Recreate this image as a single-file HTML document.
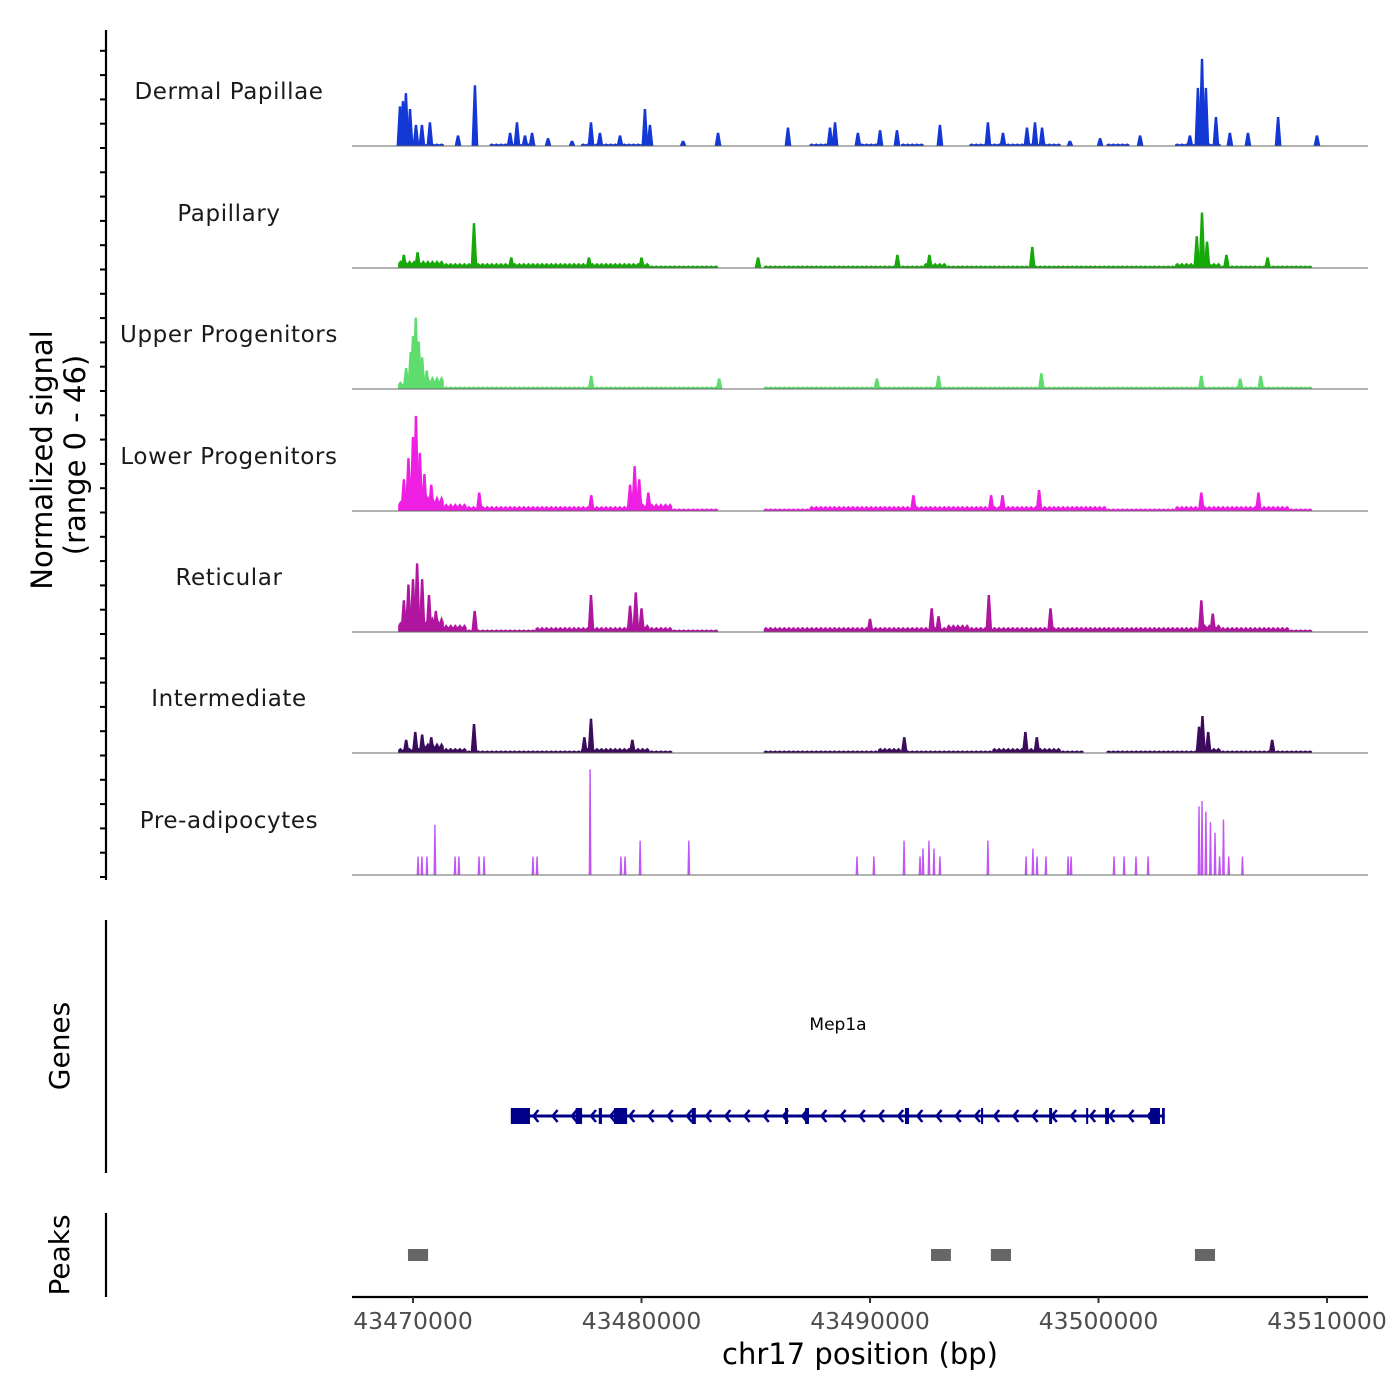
<!DOCTYPE html>
<html><head><meta charset="utf-8"><style>
html,body{margin:0;padding:0;background:#fff;}
svg{display:block;font-family:"DejaVu Sans","Liberation Sans",sans-serif;}
</style></head><body>
<svg id="chart" width="1400" height="1400" viewBox="0 0 1400 1400"></svg>
<script>
// ---- data (positions in kb offset from 43470000) ----
const trackNames = ["Dermal Papillae","Papillary","Upper Progenitors","Lower Progenitors","Reticular","Intermediate","Pre-adipocytes"];
const trackColors = ["#1338d6","#17a80a","#5fdc6e","#ee1ee3","#b0159f","#3b0b5c","#c355f5"];
const xTicks = [43470000,43480000,43490000,43500000,43510000];
const yMax = 46;
const bgDermal = [1,1,0,0,1,1,0,0,1,1,1,0,0,0,0,0,0,0,1,0,1,0,1,0,0,1,1,1,1,0,0,1,0,0,1,1,0,0,0,0,0];
const bgPapillary = [3,3,2,2,2,2,2,2,2,2,2,1,1,1,0,0,1,1,1,1,1,1,1,2,1,1,1,1,1,1,1,1,1,1,2,2,1,1,1,1,0];
const bgUpper = [3,5,1,1,1,1,1,1,1,1,1,1,1,1,0,0,1,1,1,1,1,1,1,1,1,1,1,1,1,1,1,1,1,1,1,1,1,1,1,1,0];
const bgLower = [4,6,3,2,2,2,2,2,2,2,3,3,1,1,0,0,1,1,2,2,2,2,2,2,2,2,2,2,2,2,2,1,1,1,2,2,2,2,2,1,0];
const bgReticular = [4,6,3,1,1,1,2,2,2,2,3,2,1,1,0,0,2,2,2,2,2,2,2,2,3,2,2,2,2,2,2,2,2,2,2,3,2,2,2,1,0];
const bgIntermediate = [2,4,2,1,1,1,1,1,2,2,2,1,0,0,0,0,1,1,1,1,1,2,1,1,1,1,2,2,2,1,0,1,1,1,1,2,1,1,1,1,0];
const bgPre = [0,0,0,0,0,0,0,0,0,0,0,0,0,0,0,0,0,0,0,0,0,0,0,0,0,0,0,0,0,0,0,0,0,0,0,0,0,0,0,0,0];
const peaksDermal = [[-0.57,15],[-0.44,17],[-0.31,20],[-0.13,14],[0.13,8],[0.39,8],[0.74,9],[1.97,4],[2.71,23],[4.25,5],[4.55,9],[4.9,4],[5.21,5],[5.91,3],[6.96,2],[7.79,9],[8.18,5],[9.06,4],[10.15,14],[10.37,8],[11.82,2],[13.35,5],[16.41,7],[18.25,7],[18.47,9],[19.47,5],[20.44,6],[21.18,6],[23.06,8],[25.16,9],[25.82,5],[26.87,7],[27.22,9],[27.53,7],[28.75,2],[30.07,3],[31.82,4],[34.0,4],[34.35,22],[34.53,33],[34.7,22],[35.14,11],[35.75,5],[36.54,5],[37.86,11],[39.56,4]];
const peaksPapillary = [[-0.4,5],[0.2,6],[2.67,17],[4.3,4],[7.7,4],[10.0,4],[15.1,4],[21.2,5],[22.6,5],[27.1,8],[34.3,12],[34.53,21],[34.75,10],[35.6,5],[37.4,4]];
const peaksUpper = [[-0.3,8],[-0.1,14],[0.0,20],[0.12,27],[0.25,18],[0.4,12],[0.6,7],[7.8,5],[13.4,4],[20.3,4],[23.0,5],[27.5,6],[34.5,5],[36.2,4],[37.1,5]];
const peaksLower = [[-0.4,12],[-0.2,20],[0.0,28],[0.13,36],[0.3,22],[0.5,14],[0.8,10],[2.9,7],[7.8,6],[9.5,10],[9.7,17],[9.9,12],[10.3,7],[21.9,6],[25.3,6],[25.8,6],[27.4,8],[34.5,7],[37.0,7]];
const peaksReticular = [[-0.4,12],[-0.2,18],[0.0,20],[0.18,26],[0.4,20],[0.7,14],[1.0,8],[2.7,8],[7.79,14],[9.5,10],[9.75,15],[10.0,9],[20.0,5],[22.7,9],[23.0,6],[25.2,14],[27.9,9],[34.5,12],[35.0,7]];
const peaksIntermediate = [[-0.3,5],[0.1,8],[0.4,7],[0.8,6],[2.67,11],[7.5,6],[7.79,13],[9.6,5],[21.5,6],[26.8,8],[27.3,6],[34.4,10],[34.55,14],[34.8,8],[37.6,5]];
const peaksPre = [[0.22,7],[0.39,7],[0.61,7],[0.96,19],[1.84,7],[2.01,7],[2.89,7],[3.11,7],[5.25,7],[5.43,7],[7.75,40],[9.1,7],[9.28,7],[9.94,13],[12.07,13],[19.43,7],[20.17,7],[21.49,13],[22.19,7],[22.32,10],[22.58,13],[22.8,10],[23.06,7],[25.16,13],[26.83,7],[27.13,10],[27.31,7],[27.7,7],[28.67,7],[28.8,7],[30.68,7],[31.12,7],[31.64,7],[32.17,7],[34.4,26],[34.53,28],[34.7,24],[34.9,20],[35.1,16],[35.3,7],[35.47,21],[35.7,7],[36.3,7]];
const trackBg = [bgDermal,bgPapillary,bgUpper,bgLower,bgReticular,bgIntermediate,bgPre];
const trackPeaks = [peaksDermal,peaksPapillary,peaksUpper,peaksLower,peaksReticular,peaksIntermediate,peaksPre];
const geneStartKb = 4.35, geneEndKb = 32.9;
const exonsKb = [[4.28,5.12],[7.12,7.4],[8.13,8.27],[8.8,9.37],[12.2,12.38],[16.28,16.41],[17.16,17.33],[21.53,21.71],[24.86,24.95],[27.84,27.97],[29.46,29.5],[30.29,30.46],[32.26,32.69],[32.78,32.9]];
const peakRegionsKb = [[-0.22,0.66],[22.67,23.54],[25.29,26.17],[34.22,35.1]];

const X0 = 413, PX_PER_KB = 22.85;
const xs = kb => X0 + kb * PX_PER_KB;
const baselines = [146,268,389,511,632,753,875];
const trackH = 121.5;
const ys = (i,v) => baselines[i] - v / yMax * trackH;

const svg = document.getElementById('chart');
const NS = 'http://www.w3.org/2000/svg';
function mk(tag, attrs, parent){ const e=document.createElementNS(NS,tag); for(const k in attrs) e.setAttribute(k,attrs[k]); (parent||svg).appendChild(e); return e; }

let ax = mk('line',{x1:106,y1:30,x2:106,y2:880,stroke:'#000','stroke-width':2.2});
 
for(let y=877; y>=30; y-=24.3){
  const t = mk('line',{x1:100,y1:y,x2:106,y2:y,stroke:'#000','stroke-width':2});
  
  
}
let yt = mk('text',{x:0,y:0,'font-size':29,'text-anchor':'middle',fill:'#000',transform:'translate(52,460) rotate(-90)'});
yt.textContent='Normalized signal';
 
let yt2 = mk('text',{x:0,y:0,'font-size':29,'text-anchor':'middle',fill:'#000',transform:'translate(85,455) rotate(-90)'});
yt2.textContent='(range 0 - 46)';
 

trackNames.forEach((name,i)=>{
  const g = mk('g',{});
  
  
  const lab = mk('text',{x:229,y:baselines[i]-47,'font-size':23,'text-anchor':'middle',fill:'#1a1a1a','letter-spacing':'0.6'},g);
  lab.textContent = name;
  
  
  const bg = trackBg[i];
  let d = '';
  bg.forEach((v,j)=>{
    if(v<=0) return;
    const x1 = xs(j-0.5-0.15), x2 = xs(j+0.5-0.15);
    const y = ys(i,v);
    let p = `M${x1},${baselines[i]} `;
    const n = 10;
    for(let k=0;k<=n;k++){ const xx=x1+(x2-x1)*k/n; const yy = k%2? y : baselines[i]-(baselines[i]-y)*0.6; p+=`L${xx},${yy} `; }
    p += `L${x2},${baselines[i]} Z `;
    d += p;
  });
  if(d){ const bp = mk('path',{d:d,fill:trackColors[i]},g);   }
  trackPeaks[i].forEach(([kb,v])=>{
    const x = xs(kb), y = ys(i,v), b = baselines[i];
    const w = i===6 ? 1.4 : 3.4;
    const t = i===6 ? 0.7 : 1.2;
    const pk = mk('path',{d:`M${x-w},${b} L${x-t},${y} L${x+t},${y} L${x+w},${b} Z`,fill:trackColors[i]},g);
    
    
  });
  const bl = mk('line',{x1:352,y1:baselines[i],x2:1368,y2:baselines[i],stroke:'#666','stroke-width':1},g);
   
});

let ga = mk('line',{x1:106,y1:920,x2:106,y2:1173,stroke:'#000','stroke-width':2.2});
 
let gt = mk('text',{x:0,y:0,'font-size':28,'text-anchor':'middle',fill:'#000',transform:'translate(69,1046) rotate(-90)'});
gt.textContent='Genes';  
const gg = mk('g',{});  
mk('line',{x1:xs(geneStartKb),y1:1116,x2:xs(geneEndKb),y2:1116,stroke:'#00008b','stroke-width':3},gg);
for(let x=xs(geneStartKb)+22; x<xs(geneEndKb)-5; x+=19.2){
  mk('path',{d:`M${x+4},${1110} L${x-1},${1116} L${x+4},${1122}`,stroke:'#00008b','stroke-width':2.5,fill:'none'},gg);
}
exonsKb.forEach(([a,b])=>{
  const ex = mk('rect',{x:xs(a),y:1108,width:Math.max(2,xs(b)-xs(a)),height:16,fill:'#00008b'},gg);
   
});
let gl = mk('text',{x:838,y:1030,'font-size':17,'text-anchor':'middle',fill:'#000'});
gl.textContent='Mep1a';  

let pa = mk('line',{x1:106,y1:1213,x2:106,y2:1297,stroke:'#000','stroke-width':2.2});
 
let pt = mk('text',{x:0,y:0,'font-size':28,'text-anchor':'middle',fill:'#000',transform:'translate(69,1255) rotate(-90)'});
pt.textContent='Peaks';  
peakRegionsKb.forEach(([a,b])=>{
  const r = mk('rect',{x:xs(a),y:1249,width:xs(b)-xs(a),height:12,fill:'#666'});
   
});

let xa = mk('line',{x1:352,y1:1297,x2:1368,y2:1297,stroke:'#000','stroke-width':2.2});
 
xTicks.forEach(t=>{
  const x = xs((t-43470000)/1000);
  const tk = mk('line',{x1:x,y1:1297,x2:x,y2:1303,stroke:'#333','stroke-width':2});
   
  const tl = mk('text',{x:x,y:1329,'font-size':23.5,'text-anchor':'middle',fill:'#4d4d4d'});
  tl.textContent = String(t);
   
});
let xt = mk('text',{x:860,y:1364,'font-size':29,'text-anchor':'middle',fill:'#000'});
xt.textContent='chr17 position (bp)';  
</script>
</body></html>
